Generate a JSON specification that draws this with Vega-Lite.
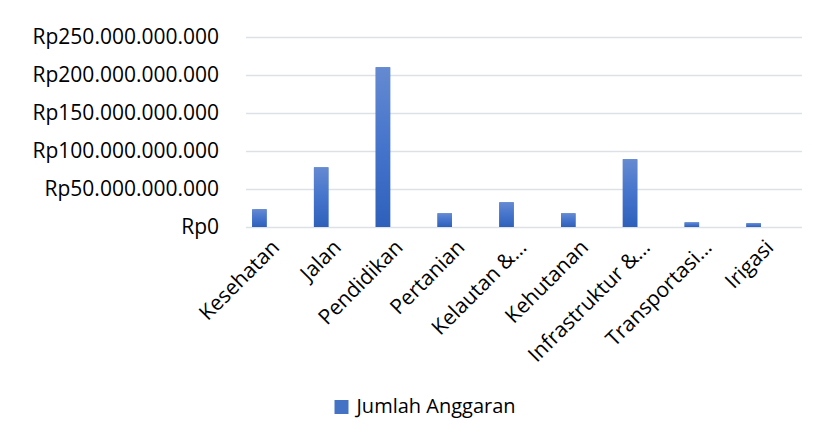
{
  "$schema": "https://vega.github.io/schema/vega-lite/v6.json",
  "autosize": "none",
  "width": 556,
  "height": 190,
  "padding": {"left": 245.5, "top": 37, "right": 16.5, "bottom": 214},
  "background": "white",
  "config": {
    "view": {"stroke": null},
    "font": "Open Sans",
    "axis": {"labelFont": "Open Sans", "labelColor": "#000000", "labelFontSize": 21, "labelLimit": 300}
  },
  "data": {
    "values": [
      {"bidang": "Kesehatan", "anggaran": 23200000000, "seri": "Jumlah Anggaran"},
      {"bidang": "Jalan", "anggaran": 78500000000, "seri": "Jumlah Anggaran"},
      {"bidang": "Pendidikan", "anggaran": 210100000000, "seri": "Jumlah Anggaran"},
      {"bidang": "Pertanian", "anggaran": 18000000000, "seri": "Jumlah Anggaran"},
      {"bidang": "Kelautan &…", "anggaran": 32500000000, "seri": "Jumlah Anggaran"},
      {"bidang": "Kehutanan", "anggaran": 18000000000, "seri": "Jumlah Anggaran"},
      {"bidang": "Infrastruktur &…", "anggaran": 89000000000, "seri": "Jumlah Anggaran"},
      {"bidang": "Transportasi…", "anggaran": 6100000000, "seri": "Jumlah Anggaran"},
      {"bidang": "Irigasi", "anggaran": 4800000000, "seri": "Jumlah Anggaran"}
    ]
  },
  "encoding": {
    "x": {
      "field": "bidang",
      "type": "nominal",
      "sort": null,
      "scale": {"paddingInner": 0, "paddingOuter": 0},
      "axis": {
        "title": null,
        "domain": false,
        "ticks": false,
        "labelAngle": -45,
        "labelAlign": "right",
        "labelBaseline": "middle",
        "labelPadding": 17,
        "labelDx": 1
      }
    },
    "y": {
      "field": "anggaran",
      "type": "quantitative",
      "scale": {"domain": [0, 250000000000]},
      "axis": {
        "title": null,
        "domain": false,
        "ticks": false,
        "values": [0, 50000000000, 100000000000, 150000000000, 200000000000, 250000000000],
        "labelExpr": "'Rp' + replace(format(datum.value, ','), regexp(',', 'g'), '.')",
        "labelPadding": 27,
        "gridColor": "#dde1e6",
        "gridWidth": 1.5
      }
    }
  },
  "layer": [
    {
      "mark": {"type": "bar", "width": 14.5, "xOffset": -17},
      "encoding": {
        "color": {
          "field": "seri",
          "type": "nominal",
          "scale": {"range": ["#4472c4"]},
          "legend": {
            "title": null,
            "orient": "none",
            "legendX": 86,
            "legendY": 360,
            "symbolType": "square",
            "symbolSize": 196,
            "symbolStrokeWidth": 0,
            "labelFont": "Open Sans",
            "labelFontSize": 20,
            "labelColor": "#000000",
            "labelOffset": 5,
            "encode": {
              "symbols": {
                "update": {
                  "fill": {"value": {"gradient": "linear", "x1": 0, "y1": 0, "x2": 0, "y2": 1,
                    "stops": [{"offset": 0, "color": "#658ad1"}, {"offset": 0.5, "color": "#4574cc"}, {"offset": 1, "color": "#2e60bb"}]}}
                }
              }
            }
          }
        }
      }
    },
    {
      "mark": {
        "type": "bar", "width": 14.5, "xOffset": -17,
        "color": {"gradient": "linear", "x1": 0, "y1": 0, "x2": 0, "y2": 1,
          "stops": [{"offset": 0, "color": "#658ad1"}, {"offset": 0.5, "color": "#4574cc"}, {"offset": 1, "color": "#2e60bb"}]}
      }
    }
  ]
}
